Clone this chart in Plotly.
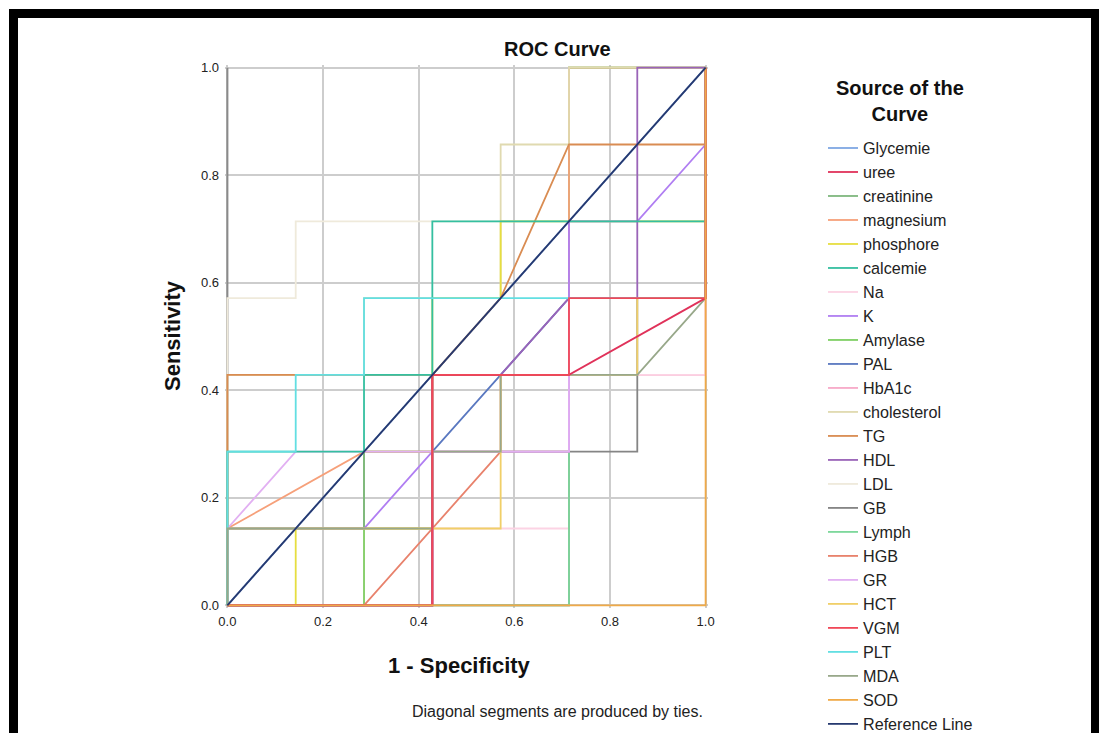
import plotly.graph_objects as go

# ---------------- data (counts out of 7 negatives / 7 positives) ----------------
N_NEG = 7
N_POS = 7

series_names = ["Glycemie", "uree", "creatinine", "magnesium", "phosphore", "calcemie",
                "Na", "K", "Amylase", "PAL", "HbA1c", "cholesterol", "TG", "HDL", "LDL",
                "GB", "Lymph", "HGB", "GR", "HCT", "VGM", "PLT", "MDA", "SOD"]

glycemie_fp = [0, 7];                         glycemie_tp = [0, 7]
uree_fp = [0, 3, 3, 5, 7, 7];                 uree_tp = [0, 0, 3, 3, 4, 7]
creatinine_fp = [0, 0, 2, 2, 3, 3, 5, 5, 7, 7]; creatinine_tp = [0, 1, 1, 2, 2, 3, 3, 4, 4, 7]
magnesium_fp = [0, 0, 2, 5, 5, 7];            magnesium_tp = [0, 1, 2, 2, 7, 7]
phosphore_fp = [0, 1, 1, 3, 3, 4, 4, 7, 7];   phosphore_tp = [0, 0, 1, 1, 4, 4, 5, 5, 7]
calcemie_fp = [0, 0, 2, 2, 3, 3, 7, 7];       calcemie_tp = [0, 2, 2, 3, 3, 5, 5, 7]
na_fp = [0, 2, 2, 5, 5, 7, 7];                na_tp = [0, 0, 1, 1, 3, 3, 7]
k_fp = [0, 0, 2, 3, 5, 5, 6, 7, 7];           k_tp = [0, 1, 1, 2, 2, 5, 5, 6, 7]
amylase_fp = [0, 2, 2, 5, 5, 7];              amylase_tp = [0, 0, 2, 2, 7, 7]
pal_fp = [0, 3, 3, 5, 7, 7];                  pal_tp = [0, 0, 2, 4, 4, 7]
hba1c_fp = [0, 3, 3, 7, 7];                   hba1c_tp = [0, 0, 3, 3, 7]
cholesterol_fp = [0, 0, 2, 2, 4, 4, 5, 5, 7]; cholesterol_tp = [0, 3, 3, 4, 4, 6, 6, 7, 7]
tg_fp = [0, 0, 3, 4, 5, 7, 7];                tg_tp = [0, 3, 3, 4, 6, 6, 7]
hdl_fp = [0, 3, 3, 4, 5, 6, 6, 7];            hdl_tp = [0, 0, 3, 3, 4, 4, 7, 7]
ldl_fp = [0, 0, 1, 1, 3, 7, 7];               ldl_tp = [0, 4, 4, 5, 5, 5, 7]
gb_fp = [0, 5, 5, 6, 6, 7, 7];                gb_tp = [0, 0, 2, 2, 4, 4, 7]
lymph_fp = [0, 5, 5, 7];                      lymph_tp = [0, 0, 7, 7]
hgb_fp = [0, 2, 4, 4, 5, 5, 7, 7];            hgb_tp = [0, 0, 2, 3, 3, 4, 4, 7]
gr_fp = [0, 0, 1, 5, 5, 7, 7];                gr_tp = [0, 1, 2, 2, 4, 4, 7]
hct_fp = [0, 0, 4, 4, 6, 6, 7, 7];            hct_tp = [0, 1, 1, 3, 3, 4, 4, 7]
vgm_fp = [0, 3, 3, 5, 5, 7, 7];               vgm_tp = [0, 0, 3, 3, 4, 4, 7]
plt_fp = [0, 0, 1, 1, 2, 2, 7, 7];            plt_tp = [0, 2, 2, 3, 3, 4, 4, 7]
mda_fp = [0, 0, 3, 3, 4, 4, 6, 7, 7];         mda_tp = [0, 1, 1, 2, 2, 3, 3, 4, 7]
sod_fp = [0, 7, 7];                           sod_tp = [0, 0, 7]
reference_fp = [0, 7];                        reference_tp = [0, 7]

tick_values = [0.0, 0.2, 0.4, 0.6, 0.8, 1.0]
tick_labels = ["0.0", "0.2", "0.4", "0.6", "0.8", "1.0"]

# ---------------- styles ----------------
curves = {
    "Glycemie": (glycemie_fp, glycemie_tp, "#7fa7e3"),
    "uree": (uree_fp, uree_tp, "#e0325a"),
    "creatinine": (creatinine_fp, creatinine_tp, "#7fb77e"),
    "magnesium": (magnesium_fp, magnesium_tp, "#f6a07a"),
    "phosphore": (phosphore_fp, phosphore_tp, "#e6de40"),
    "calcemie": (calcemie_fp, calcemie_tp, "#35bfa0"),
    "Na": (na_fp, na_tp, "#fcd3e4"),
    "K": (k_fp, k_tp, "#b07ef2"),
    "Amylase": (amylase_fp, amylase_tp, "#7fd064"),
    "PAL": (pal_fp, pal_tp, "#5a78c0"),
    "HbA1c": (hba1c_fp, hba1c_tp, "#f7a9c8"),
    "cholesterol": (cholesterol_fp, cholesterol_tp, "#e0dab0"),
    "TG": (tg_fp, tg_tp, "#d98c52"),
    "HDL": (hdl_fp, hdl_tp, "#9a64b8"),
    "LDL": (ldl_fp, ldl_tp, "#efeadb"),
    "GB": (gb_fp, gb_tp, "#858585"),
    "Lymph": (lymph_fp, lymph_tp, "#7ed89c"),
    "HGB": (hgb_fp, hgb_tp, "#e8826c"),
    "GR": (gr_fp, gr_tp, "#e2b0f2"),
    "HCT": (hct_fp, hct_tp, "#f0cf68"),
    "VGM": (vgm_fp, vgm_tp, "#f04858"),
    "PLT": (plt_fp, plt_tp, "#62dfe2"),
    "MDA": (mda_fp, mda_tp, "#98a88a"),
    "SOD": (sod_fp, sod_tp, "#f0aa48"),
}

draw_order = ["Glycemie", "LDL", "HbA1c", "Na", "GB", "Lymph", "Amylase", "creatinine",
              "magnesium", "cholesterol", "phosphore", "TG", "HGB", "PAL", "K", "HDL", "GR",
              "HCT", "calcemie", "PLT", "MDA", "uree", "VGM", "SOD"]

FONT = "Liberation Sans, Arial, sans-serif"

fig = go.Figure()
for name in draw_order:
    fp, tp, color = curves[name]
    fig.add_trace(go.Scatter(
        x=[v / N_NEG for v in fp], y=[v / N_POS for v in tp],
        mode="lines", name=name, line=dict(color=color, width=1.8),
        legendrank=series_names.index(name) + 1, hoverinfo="skip"))

fig.add_trace(go.Scatter(
    x=[v / N_NEG for v in reference_fp], y=[v / N_POS for v in reference_tp],
    mode="lines", name="Reference Line", line=dict(color="#26396f", width=1.8),
    legendrank=100, hoverinfo="skip"))

# ---------------- layout ----------------
L, T, W, H = 225, 65, 483, 543
FIG_W, FIG_H = 1105, 733


def px_x(p):
    return (p - L) / W


def px_y(p):
    return (T + H - p) / H


axis_common = dict(range=[-0.005, 1.005], tickvals=tick_values, ticktext=tick_labels,
                   showgrid=True, gridcolor="#cdcdcd", gridwidth=1.5, zeroline=False,
                   showline=False, ticks="", layer="below traces",
                   tickfont=dict(family=FONT, size=13, color="#222"), fixedrange=True)

fig.update_layout(
    width=FIG_W, height=FIG_H,
    margin=dict(l=L, r=FIG_W - L - W, t=T, b=FIG_H - T - H, autoexpand=False),
    plot_bgcolor="white", paper_bgcolor="white",
    xaxis=dict(**axis_common, ticklabelstandoff=4),
    yaxis=dict(**axis_common, ticklabelstandoff=5),
    showlegend=True,
    legend=dict(
        x=px_x(823), y=px_y(131), xanchor="left", yanchor="top", maxheight=720,
        font=dict(family=FONT, size=16.15, color="#222"),
        bgcolor="rgba(0,0,0,0)", borderwidth=0, traceorder="normal",
        itemclick=False, itemdoubleclick=False),
    font=dict(family=FONT),
)

# left axis line (drawn under curves)
fig.add_shape(type="line", xref="x", yref="y", x0=0, x1=0, y0=0, y1=1,
              line=dict(color="#8a8a8a", width=2), layer="between")

annotations = [
    dict(text="<b>ROC Curve</b>", x=px_x(557), y=px_y(49), font=dict(size=20, color="#111")),
    dict(text="<b>Source of the<br>Curve</b>", x=px_x(900), y=px_y(101), font=dict(size=20, color="#111")),
    dict(text="<b>Sensitivity</b>", x=px_x(173), y=px_y(336), textangle=-90,
         font=dict(size=22, color="#111")),
    dict(text="<b>1 - Specificity</b>", x=px_x(459), y=px_y(665), font=dict(size=22, color="#111")),
    dict(text="Diagonal segments are produced by ties.", x=px_x(557), y=px_y(711),
         font=dict(size=16, color="#222")),
]
for a in annotations:
    fig.add_annotation(xref="paper", yref="paper", showarrow=False, xanchor="center",
                       yanchor="middle", x=a["x"], y=a["y"], text=a["text"],
                       textangle=a.get("textangle", 0),
                       font=dict(family=FONT, **a["font"]))

# black frame around the image
frame = [(9, 9, 1099, 18), (9, 9, 18, 760), (1091, 9, 1099, 760)]
for x0, y0, x1, y1 in frame:
    fig.add_shape(type="rect", xref="paper", yref="paper",
                  x0=px_x(x0), x1=px_x(x1), y0=px_y(y1), y1=px_y(y0),
                  fillcolor="black", line=dict(width=0), layer="above")

fig.write_html("out.html", config={"displayModeBar": False},
               post_script="document.body.style.margin='0px';document.body.style.overflow='hidden';")
